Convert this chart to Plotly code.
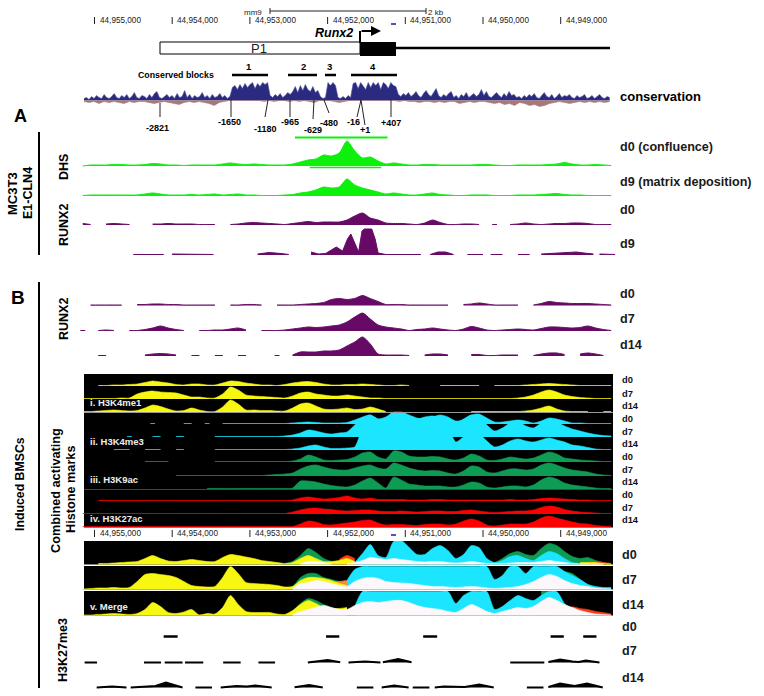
import numpy as np
import plotly.graph_objects as go

W, H = 764, 696
N = None
PX0, PX_PER_KB = 94.5, 77.7   # pixel of 44,955,000 and pixels per kb (x axis calibration)
FONT = "Liberation Sans"

# ---------- data: genomic ticks ----------
TICK_KB = [0, 1, 2, 3, 4, 5, 6]
TICK_LABELS = ["44,955,000", "44,954,000", "44,953,000", "44,952,000", "44,951,000", "44,950,000", "44,949,000"]

# ---------- data: conservation ----------
CONS_POS = [2,3,1,4,2,5,3,2,6,3,2,4,7,3,2,5,3,6,2,4,8,3,2,5,4,2,6,3,7,9,3,2,4,6,3,5,2,7,3,4,10,3,6,2,5,3,4,8,3,5,2,6,3,4,7,3,5,2,4,
            13,15,11,16,12,17,13,16,18,12,17,14,18,16,18,
            5,3,6,4,7,3,5,8,6,
            9,14,8,15,10,16,11,9,14,8,10,
            4,2,3,
            18,15,18,15,
            3,2,4,2,5,3,
            17,18,12,18,15,11,18,13,18,15,18,11,18,16,12,18,15,14,
            6,4,7,5,8,4,6,9,5,3,7,10,6,4,8,12,5,3,6,4,7,9,3,5,2,6,4,8,3,5,7,4,6,11,5,9,4,3,6,8,5,3,7,4,9,5,6,3,4,2,5,3,6,4,7,3,2,5,8,4,3,6,2,4,7,3,5,4,6,3,2,5,3,4,6,2,3,5,2,4,6,3,2,4,3]
CONS_NEG = [1,2,1,3,1,2,1,2,3,1,2,1,1,2,3,2,1,2,3,4,2,1,2,1,2,3,5,2,1,
            0,0,0,0,0,0,0,1,0,1,0,0,1,0,1,0,1,2,0,0,0,1,2,1,0,0,0,0,0,0,0,0,0,0,
            1,0,1,1,2,1,1,2,1,2,1,1,3,2,1,2,1,1,2,3,2,4,3,5,2,3,5,4,6,5,3,2,1,2,3,2,1,2,1,2,1,2,1]

# ---------- data: panel A ----------
DHS_D0 = [0,1,1,1,1.5,1.5,1,1,1.5,2.5,
          2,1,1,.5,1,1,1,1,2,3,
          2,1.5,2,1.5,1,1,1,2,4,6,
          7,11,10,13,25,15,8,9,5,2,
          3,2,1,1,1.5,1.5,1,1,1,1,
          1,1.5,1.5,1,.5,.5,1,1,1,1,
          1.5,2,3.5,2,1,1,1.5,1,.5]
DHS_D9 = [.5,1,1,1,1,1,1,1,2,3,
          2,1,1,1,1.5,1,1.5,2,1,1.5,
          2,1,1,.5,.5,.5,1,1.5,3,4,
          6,9,8,9,17,11,8,6,4,2,
          3,2,1,1,2,3,1.5,1,.5,.5,
          1,1,1,.5,.5,.5,1,1,1,1.5,
          2,2.5,1.5,1,1,.5,.5,.5,.5]
RUNX2_A_D0 = [1.5,.5,N,1,1.5,1,.5,N,N,1,
              1,1.5,1,1,1,.5,.5,.5,N,.5,
              1,2,2.5,2,1.5,1,.5,1.5,2.5,3.5,
              2.5,3,3,3,5,9,12,7,5,2,
              1.5,1.5,1,.5,2,5,2.5,.5,.5,1,
              1,.5,N,.5,N,.5,1,2,1,.5,
              1,1.5,1.5,2,2,1.5,.5,.5,.5]
RUNX2_A_D9_KB = [.5,.63,.76,.89,N,1.0,1.13,1.27,1.4,1.53,N,2.1,2.25,2.4,2.5,N,
                 2.787,2.881,2.974,3.112,3.193,3.256,3.299,3.362,3.399,3.443,3.474,3.568,3.612,3.65,3.75,4.0,4.2,N,
                 4.32,4.42,4.52,4.62,N,4.8,5.0,N,5.1,5.25,N,5.45,5.6,N,5.75,5.9,6.05,6.2,6.3,6.42,N,6.5,6.62,6.7]
RUNX2_A_D9 = [.5,.5,.5,.5,N,1,1,.5,.5,.5,N,1,2.5,1.5,.5,N,
              3,1,1.5,8,4,16,21,10,3,24,26,26,16,2,.5,.5,.5,N,
              .5,3,3,.5,N,.5,.5,N,.5,.5,N,.5,.5,N,1,1.5,2,3,2,1,N,1,.5,.5]
DHS_BAR_TOP_KB = [2.58, 3.77]
DHS_BAR_LOW_KB = [2.77, 3.69]

# ---------- data: RUNX2 in BMSCs ----------
RUNX2_B_D0 = [N,.5,.5,.5,.5,.5,N,1,1,1.5,
              1.5,1,1,.5,.5,.5,.5,.5,N,.5,
              .5,1,1,.5,N,.5,.5,.5,1,1.5,
              2,3,6,7,6,7,10,7,4,1,
              1,1,.5,.5,.5,.5,.5,.5,N,1,
              1.5,2.5,1.5,.5,.5,.5,.5,N,.5,2,
              4,3,2.5,2,2,2,1.5,1,.5]
RUNX2_B_D7 = [.5,N,.5,1,.5,N,.5,.5,1.5,3,
              5,3,1.5,.5,N,.5,.5,1,1,2,
              3,1,N,.5,.5,.5,1,2,3,4,
              3.5,4,5,6,9,14,18,12,6,4,
              3,2,.5,1.5,2,3,2,1,.5,2,
              4.5,3,1,.5,1,1.5,2,1.5,1,2.5,
              4,4,3.5,3,3.5,5,3,1.5,.5]
RUNX2_B_D14 = [N,N,.5,.5,N,N,N,N,1,2,
               2.5,2,1,N,.5,.5,N,.5,.5,N,
               .5,.5,N,N,N,.5,N,1,4,4,
               4,5,5,6,10,14,19,12,2,1,
               1,1,.5,N,1,2,2,1,N,N,
               1.5,1.5,.5,.5,1,1,1,N,.5,2,
               3,3,1.5,N,2,3,2,.5,N]

# ---------- data: histone marks ----------
K4ME1_D0 = [N,N,.5,.5,1,1,1.5,2,3.5,5,
            4,3,1.5,1,2,2,1,1,3,5,
            4.5,3,2,1,1,.5,1.5,3,4,4.5,
            3.5,2,1,1,1.5,1.5,2,1.5,1,.5,
            .5,1,.5,N,N,N,.5,.5,.5,.5,
            .5,.5,N,.5,.5,.5,.5,1,1.5,2,
            2.5,2,1.5,1,.5,.5,.5,.5,.5]
K4ME1_D7 = [.5,.5,.5,.5,.5,1,1,5,7,8,
            7,6.5,6,4,2,2,1,1,5,12,
            9,4,3,2.5,2,1.5,1,3,6,7,
            5,4,3,3,4,3,2,1,1,.5,
            .5,.5,.5,.5,.5,.5,.5,.5,.5,.5,
            .5,.5,.5,.5,.5,.5,1,2,4,7,
            9,7,4,2.5,1.5,1,.5,.5,.5]
K4ME1_D14 = [.5,.5,1,1.5,2,1.5,1,1.5,4,7,
             5.5,3,1,1.5,4,2,.5,.5,5,12,
             8,2,2,1.5,1.5,1,1,4,8,9,
             6,3,2.5,3,4,2.5,3,5,3,.5,
             N,N,N,N,N,N,N,N,N,N,
             .5,.5,.5,.5,.5,.5,.5,1,2,4,
             6,3,1,.5,.5,.5,N,.5,.5]
K4ME3_D0 = [N,N,N,N,N,N,N,N,N,.5,
            N,N,N,.5,.5,N,.5,N,.5,.5,
            .5,.5,.5,.5,.5,.5,.5,1,1.5,2,
            1.5,1,1,1,1.5,4,7,9,5,5,
            11,12,9,6,5,7,9,7,3,4,
            9,10,6,2,2,3,4,3,1,3,
            6,5,3,1,1,.5,.5,.5,.5]
K4ME3_D7 = [N,N,N,N,N,N,.5,N,N,.5,
            .5,N,.5,.5,N,N,N,.5,.5,.5,
            .5,.5,.5,.5,.5,.5,1,2,4,7,
            6,4,3,4,5,12,19,22,18,20,
            25,24,21,18,20,21,19,16,14,18,
            22,20,12,6,9,14,16,11,9,14,
            17,15,11,8,6,4,2.5,1.5,1]
K4ME3_D14 = [N,N,N,N,.5,.5,.5,N,.5,.5,
             .5,N,.5,.5,N,N,N,.5,.5,.5,
             .5,.5,.5,.5,.5,.5,.5,1,2,4,
             5,3,1.5,1.5,2,3,20,22,22,22,
             24,24,24,24,24,24,24,22,8,13,
             17,16,9,3,5,9,11,9,8,10,
             12,10,8,5,4,2.5,1,.5,.5]
K9AC_D0 = [N,N,N,N,N,N,N,N,.5,.5,
           .5,.5,N,N,N,N,N,.5,.5,.5,
           .5,.5,.5,.5,.5,.5,.5,1,3,7,
           5,2,1.5,2,2.5,5,9,10,5,3,
           11,10,6,5,5,5.5,5,3,2,4,
           8,6,2,1.5,3,5,4,3,4,7,
           10,8,4,3,2,1.5,1,.5,.5]
K9AC_D7 = [N,N,N,N,N,N,N,N,N,N,
           N,N,.5,.5,.5,.5,.5,.5,.5,.5,
           .5,.5,.5,.5,1,1.5,2,3,7,10,
           11,9,7,6,6,8,10,11,8,7,
           13,11,8,6,5,5.5,5,3,2,5,
           10,9,4,3,5,7,7,6,7,11,
           13,11,8,6,5,4,2,1,.5]
K9AC_D14 = [N,N,N,N,N,N,N,N,N,N,
            N,N,N,N,N,N,.5,.5,.5,.5,
            .5,.5,.5,.5,.5,.5,.5,1,8,8,
            7,5,3.5,2.5,2,4,8,11,6,1,
            12,9,5,4,3,3,3,2,2,4,
            7,6,2,1,2,3,3,2,4,9,
            12,10,6,4,3,2,1,.5,.5]
K27AC_D0 = [N,N,.5,.5,.5,.5,.5,.5,.5,.5,
            .5,.5,.5,.5,.5,.5,.5,.5,.5,.5,
            .5,.5,.5,.5,.5,.5,.5,1,3,4,
            3,2,2.5,3.5,5,3,2,3,1.5,1.5,
            1.5,1.5,1,1,1,1.5,1.5,1,1,1,
            1,1,1,1,1,1.5,1,1,1.5,2.5,
            3,2.5,2,1.5,1,1,.5,.5,.5]
K27AC_D7 = [.5,.5,.5,.5,.5,.5,.5,.5,.5,.5,
            .5,.5,.5,.5,.5,.5,.5,.5,.5,.5,
            .5,.5,.5,.5,.5,.5,.5,2,4,5.5,
            6,5,4.5,3.5,3,3.5,4,4,3,2.5,
            2.5,3,2.5,2,2.5,3,3,2.5,2.5,3.5,
            4,3,2,1.5,2,2.5,3,3,4,6.5,
            8,7,4.5,3,2,1.5,1,.5,.5]
K27AC_D14 = [.5,.5,.5,.5,.5,.5,.5,.5,.5,.5,
             .5,.5,.5,.5,.5,.5,.5,.5,.5,.5,
             .5,.5,.5,.5,.5,.5,.5,.5,3,6,
             5,2.5,2,3,4,5,6.5,7,4,2,
             2.5,2.5,2,1.5,2.5,3,3,2,3,6,
             8,6,2,1,2,3,3,3,5,9,
             11,9,7,5,3.5,3,1.5,1,.5]

# ---------- data: merge ----------
M0_GREEN = [N,N,N,N,N,N,N,N,N,N,N,N,N,N,N,N,N,N,N,N,
            N,N,N,N,N,N,1,3,9,16,12,6,3,N,N,N,3,10,4,6,
            12,10,7,5,6,8,8,5,3,6,9,7,2,2,6,11,13,10,9,16,
            21,19,13,8,6,7,4,2,1]
M0_RED = [N,N,N,N,N,N,N,N,N,N,N,N,N,N,N,N,N,N,N,N,
          N,N,N,N,N,N,N,N,N,N,N,N,N,5,9,6,N,N,N,N,
          N,N,N,N,N,N,N,N,N,N,N,N,N,N,N,N,N,N,N,N,
          N,N,N,N,N,3,3,2,1]
M0_YELLOW = [N,N,1,1,1.5,2,2.5,3,6,9,
             6,3.5,3,4,5,4,3,3,7,10,
             9,7.5,6,4,3,2,1,2,6,9,
             6,3,3,4,6,3,N,N,N,N,
             N,N,N,N,N,N,N,N,N,N,
             N,N,N,N,N,N,N,N,N,N,
             N,N,N,N,2,2,2,1,.5]
M0_CYAN = [N,N,N,N,N,N,N,N,N,N,N,N,N,N,N,N,N,N,N,N,
           N,N,N,N,N,N,N,N,N,N,N,N,N,N,N,2,11,20,9,7,
           23,24,17,10,10,16,19,14,6,10,19,17,6,2,4,8,9,6,4,9,
           13,11,6,2,1,N,N,N,N]
M0_WHITE = [N,N,N,N,N,N,N,N,N,N,N,N,N,N,N,N,N,N,N,N,
            N,N,N,N,N,N,N,N,1,3,3,2,1,N,1,2,4,7,6,5,
            6,5,4,3,2.5,3,3,2,1.5,2,3,2,1,1,1,1.5,2,2,2,3,
            4,3,2,1,.5,.5,.5,.5,N]
M7_GREEN = [N,N,N,N,N,N,N,N,N,N,N,N,N,N,N,N,N,N,N,N,
            N,N,N,N,N,N,2,3,12,16,16,12,10,8,7,N,N,N,N,N,
            N,N,N,N,N,N,N,N,N,N,N,N,N,N,N,N,N,N,N,N,
            N,20,18,16,10,5,2,N,N]
M7_RED = [N,N,N,N,N,N,N,N,N,N,N,N,N,N,N,N,N,N,N,N,
          N,N,N,N,N,N,N,N,N,N,N,N,7,8,9,N,N,N,N,N,
          N,N,N,N,N,N,N,N,N,N,N,N,N,N,N,N,N,N,N,N,
          N,N,N,N,N,N,N,N,N]
M7_YELLOW = [.5,1,1.5,1.5,2,1.5,2,8,15,16,
             15,14,12,8,4,3,2.5,3,12,23,
             16,7,6,5.5,5,4,2.5,3,9,12,
             12,11,9,6,4,N,N,N,N,N,
             N,N,N,N,N,N,N,N,N,N,
             N,N,N,N,N,N,N,N,N,N,
             N,N,N,N,N,N,N,N,N]
M7_CYAN = [N,N,N,N,N,N,N,N,N,N,N,N,N,N,N,N,N,N,N,N,
           N,N,N,N,N,N,N,N,N,N,N,N,N,N,9,20,23,23,23,23,
           23,23,23,23,23,23,23,23,23,23,23,23,23,10,14,23,23,16,23,23,
           23,23,18,14,10,5,3,2,2]
M7_WHITE = [N,N,N,N,N,N,N,N,N,N,N,N,N,N,N,N,N,N,N,N,
            N,N,N,N,N,N,N,1,6,7,9,8,6,4,3,8,11,12,11,8,
            7,6.5,6,5,4,3,3,2.5,2,2.5,3,2.5,1.5,1,1.5,2,3,5,8,12,
            15,13,9,6,4,3,1.5,1,.5]
M14_GREEN = [N,N,N,N,N,N,N,N,N,N,N,N,N,N,N,N,N,N,N,N,
             N,N,N,N,N,N,N,4,12,17,15,11,8,6,5,N,N,N,N,N,
             N,N,N,N,N,N,N,N,N,N,N,N,N,N,N,N,N,N,N,24,
             24,N,N,N,N,N,N,N,N]
M14_RED = [N,N,N,N,N,N,N,N,N,N,N,N,N,N,N,.7,.5,N,N,N,
           N,N,N,N,N,N,N,N,N,N,N,N,N,N,N,N,N,N,N,N,
           N,N,N,N,N,N,N,N,N,N,N,N,N,N,N,N,N,N,N,N,
           N,N,N,9,7,6,4,3,1.5]
M14_YELLOW = [.5,.5,1,1.5,2,1.5,1,2,6,13,
              9,3,2,3.5,6,.5,2,1.5,8,20,
              11,4,3,3,3,1.5,1,5,11,15,
              12,8,7,7,8,N,N,N,N,N,
              N,N,N,N,N,N,N,N,N,N,
              N,N,N,N,N,N,N,N,N,N,
              N,N,N,N,N,N,N,N,N]
M14_CYAN = [N,N,N,N,N,N,N,N,N,N,N,N,N,N,N,N,N,N,N,N,
            N,N,N,N,N,N,N,N,N,N,N,N,N,N,N,9,24,24,24,24,
            24,24,24,24,24,24,24,24,12,20,24,24,24,6,9,15,20,17,15,20,
            24,24,12,6,3,N,N,N,N]
M14_WHITE = [N,N,N,N,N,N,N,N,N,N,N,N,N,N,N,N,N,N,N,N,
             N,N,N,N,N,N,N,1,4,6,8,10,8,6,6,10,13,14,13,14,
             15,15,13,10,8,7,6,4,3,7,11,8,4,2,4,6,8,7,9,14,
             18,15,11,8,5,3,1.5,1,.5]

# ---------- data: H3K27me3 ----------
K27ME3_D0_KB = [0.89,1.07,N,2.98,3.15,N,4.23,4.41,N,5.87,6.04,N,6.29,6.46]
K27ME3_D0 = [0,0,N,0,0,N,0,0,N,0,0,N,0,0]
K27ME3_D7_KB = [-.127,.033,N,.637,.856,N,.904,1.133,N,1.165,1.4,N,1.656,1.881,N,2.11,2.324,N,
                2.746,2.895,3.002,3.162,N,3.269,3.482,3.68,N,3.712,3.909,4.08,N,5.351,5.789,N,
                5.842,5.992,6.152,6.232,6.323,6.499]
K27ME3_D7 = [0,0,N,0,0,N,0,0,N,0,0,N,0,0,N,0,0,N,
             0,1.5,2.5,.3,N,0,1,0,N,.3,3.5,.3,N,0,0,N,
             .5,3,1,.5,2,0]
K27ME3_D14_KB = [.028,.226,.412,N,.466,.653,.786,.92,1.053,1.133,N,1.299,1.512,N,1.624,1.827,1.961,2.068,2.281,N,
                 2.575,2.762,2.938,N,3.376,3.589,N,3.696,3.856,4.043,N,4.096,4.31,N,4.379,4.497,4.764,4.951,5.138,N,
                 5.565,5.778,N,5.842,5.992,6.179,6.339,6.541]
K27ME3_D14 = [0,1,0,N,0,.5,1.5,5,2,0,N,0,0,N,0,1.5,1,2,0,N,
              .3,2.5,0,N,0,0,N,0,2,0,N,0,0,N,0,1,.5,3,0,N,
              0,0,N,.5,4,1.5,4,0]

# ---------- helpers ----------
GRID_KB = np.round(-0.1506 + 0.1 * np.arange(69), 4).tolist()
fig = go.Figure()
annots, shapes = [], []
axis_layout = {}
axis_count = [1]


def px(xpx):
    return xpx / W


def py(ypx):
    return 1 - ypx / H


def new_axis(base, up, down=0):
    axis_count[0] += 1
    n = axis_count[0]
    axis_layout[f"yaxis{n}"] = dict(domain=[py(base + down), py(base - up)], range=[-down, up],
                                    visible=False, fixedrange=True, anchor="x")
    return f"y{n}"


def segments(xs, ys):
    seg_x, seg_y = [], []
    for a, b in zip(xs, ys):
        if a is None or b is None:
            if seg_x:
                yield seg_x, seg_y
            seg_x, seg_y = [], []
        else:
            seg_x.append(a)
            seg_y.append(b)
    if seg_x:
        yield seg_x, seg_y


def track(values, base, color, up=30, x=None, lw=1, spline=True):
    ax = new_axis(base, up, 2)
    for sx, sy in segments(GRID_KB if x is None else x, values):
        if len(sx) == 1:  # lone sample: give it a visible tick of track width
            sx, sy = [sx[0] - 0.03, sx[0] + 0.03], [sy[0], sy[0]]
        fig.add_trace(go.Scatter(x=sx, y=sy, yaxis=ax, mode="lines",
                                 line=dict(color=color, width=lw, shape="spline" if spline else "linear", smoothing=0.7),
                                 fill="tozeroy", fillcolor=color, hoverinfo="skip", showlegend=False))


def text(x, y, s, size=12, bold=True, color="#000", rot=0, anchor="left"):
    annots.append(dict(x=px(x), y=py(y), xref="paper", yref="paper", text=f"<b>{s}</b>" if bold else s,
                       showarrow=False, font=dict(family=FONT, size=size, color=color), textangle=rot,
                       xanchor=anchor, yanchor="middle", borderpad=0, borderwidth=0))


def line(x0, y0, x1, y1, color="#000", w=1):
    shapes.append(dict(type="line", xref="paper", yref="paper", x0=px(x0), x1=px(x1), y0=py(y0), y1=py(y1),
                       line=dict(color=color, width=w)))


def rect(x0, y0, x1, y1, fill, color=None, w=0, layer="below"):
    shapes.append(dict(type="rect", xref="paper", yref="paper", x0=px(x0), x1=px(x1), y0=py(y0), y1=py(y1),
                       fillcolor=fill, line=dict(color=color or fill, width=w), layer=layer))


def genomic_ticks(ypx):
    for kb, lab in zip(TICK_KB, TICK_LABELS):
        shapes.append(dict(type="line", xref="x", yref="paper", x0=kb, x1=kb, y0=py(ypx - 3), y1=py(ypx + 4),
                           line=dict(color="#222", width=1)))
        annots.append(dict(x=kb, y=py(ypx), xref="x", yref="paper", text=lab, showarrow=False, xshift=3,
                           font=dict(family=FONT, size=8.2, color="#222"), xanchor="left", yanchor="middle"))


GREEN, PURPLE, YELLOW, CYAN, DKGREEN, RED = "#0cf00c", "#660a66", "#f7f711", "#1ce6ff", "#0e9c55", "#ff0000"

# ---------- header ----------
text(253, 13, "mm9", 8, False, "#222", anchor="center")
line(270, 11, 426, 11, "#222")
line(270, 8, 270, 14, "#222")
line(426, 8, 426, 14, "#222")
text(428, 13, "2 kb", 8, False, "#222")
genomic_ticks(20)
line(391, 24, 396, 24, "#1a1aa0", 1.5)
text(334, 33, "<i>Runx2</i>", 12.5, True, anchor="center")
line(360, 43, 360, 31, "#000", 2)
annots.append(dict(x=px(381), y=py(31), ax=-21, ay=0, xref="paper", yref="paper",
                   text="", showarrow=True, arrowhead=2, arrowsize=1, arrowwidth=2, arrowcolor="#000"))
rect(160, 42, 360, 54, "#fff", "#000", 1)
text(259, 49, "P1", 13, False, "#222", anchor="center")
rect(360, 42, 396, 56, "#000")
line(396, 48, 610, 48, "#000", 2.5)
text(138, 75, "Conserved blocks", 8.8, True)
for lab, a, b, c in [("1", 232, 268, 249), ("2", 288, 317, 303), ("3", 325, 336, 329), ("4", 351, 397, 373)]:
    line(a, 75, b, 75, "#000", 2.5)
    text(c, 66, lab, 9.5, True, anchor="center")

# conservation wiggle
cons_x = np.linspace(-0.135, 6.63, len(CONS_POS)).tolist()
neg_x = np.linspace(-0.135, 6.63, len(CONS_NEG)).tolist()
cy = new_axis(100.5, 19, 10)
fig.add_trace(go.Scatter(x=cons_x, y=CONS_POS, yaxis=cy, mode="lines", line=dict(color="#5656a0", width=0.6),
                         fill="tozeroy", fillcolor="#2a2a80", hoverinfo="skip", showlegend=False))
fig.add_trace(go.Scatter(x=neg_x, y=[-v for v in CONS_NEG], yaxis=cy, mode="lines", line=dict(color="#a87878", width=0.6),
                         fill="tozeroy", fillcolor="#a87878", hoverinfo="skip", showlegend=False))
text(620, 96, "conservation", 13, True)

for lab, xt, xb, ytop, ybot, xl, yl in [("-2821", 160, 160, 103, 117, 157, 128), ("-1650", 231, 231, 100, 117, 229, 122),
                                        ("-1180", 268, 265, 100, 117, 265, 129), ("-965", 290, 290, 100, 117, 290, 122),
                                        ("-629", 314, 313, 100, 119, 313, 130), ("-480", 324, 329, 100, 113, 329, 123),
                                        ("-16", 361, 357, 100, 117, 353, 122), ("+1", 361, 365, 100, 125, 365, 129.5),
                                        ("+407", 391, 391, 100, 117, 391, 123)]:
    line(xt, ytop, xb, ybot, "#222")
    text(xl, yl, lab, 9, True, anchor="center")

# ---------- panel A ----------
text(20, 116, "A", 18, True, anchor="center")
line(39, 132, 39, 255, "#000", 2)
text(12, 194, "MC3T3", 13, True, rot=-90, anchor="center")
text(28, 193, "E1-CLN4", 12.5, True, rot=-90, anchor="center")
text(64, 167, "DHS", 12.5, True, rot=-90, anchor="center")
text(64, 225, "RUNX2", 12.5, True, rot=-90, anchor="center")
track(DHS_D0, 166, GREEN)
track(DHS_D9, 196, GREEN)
track(RUNX2_A_D0, 225, PURPLE)
track(RUNX2_A_D9, 255, PURPLE, x=RUNX2_A_D9_KB, spline=False)
for kb_pair, ypx, w in [(DHS_BAR_TOP_KB, 137.5, 2), (DHS_BAR_LOW_KB, 167.5, 1.5)]:
    shapes.append(dict(type="line", xref="x", yref="paper", x0=kb_pair[0], x1=kb_pair[1], y0=py(ypx), y1=py(ypx),
                       line=dict(color=GREEN, width=w)))
for s, y in [("d0 (confluence)", 147), ("d9 (matrix deposition)", 182), ("d0", 210), ("d9", 244)]:
    text(620, y, s, 12.6, True, "#1a1a1a")

# ---------- panel B ----------
text(18, 297, "B", 19, True, anchor="center")
line(39, 282, 39, 688, "#000", 2)
text(64, 319, "RUNX2", 12.5, True, rot=-90, anchor="center")
text(20, 484, "Induced BMSCs", 12.3, True, rot=-90, anchor="center")
text(56, 490, "Combined activating", 12.7, True, rot=-90, anchor="center")
text(71, 490, "Histone marks", 12.7, True, rot=-90, anchor="center")
text(63, 650, "H3K27me3", 12.5, True, rot=-90, anchor="center")
track(RUNX2_B_D0, 305.5, PURPLE)
track(RUNX2_B_D7, 331, PURPLE)
track(RUNX2_B_D14, 356, PURPLE)
for s, y in [("d0", 294), ("d7", 319), ("d14", 345)]:
    text(620, y, s, 12.6, True, "#1a1a1a")

# histone panel
rect(84, 374, 613, 527.5, "#000")
for vals, base, col in [(K4ME1_D0, 386, YELLOW), (K4ME1_D7, 399, YELLOW), (K4ME1_D14, 412, YELLOW),
                        (K4ME3_D0, 424, CYAN), (K4ME3_D7, 437, CYAN), (K4ME3_D14, 450, CYAN),
                        (K9AC_D0, 462, DKGREEN), (K9AC_D7, 476, DKGREEN), (K9AC_D14, 489, DKGREEN),
                        (K27AC_D0, 501, RED), (K27AC_D7, 514, RED), (K27AC_D14, 527, RED)]:
    track(vals, base, col, lw=0.6)
line(84, 412.5, 613, 412.5, "#999", 1)
line(84, 489.5, 613, 489.5, "#444", 1)
for s, y in [("i. H3K4me1", 403), ("ii. H3K4me3", 441), ("iii. H3K9ac", 479), ("iv. H3K27ac", 518)]:
    text(90, y, s, 9.5, True, "#eee")
for s, y in zip(["d0", "d7", "d14"] * 4, [380, 394, 406, 419, 432, 444, 457, 470, 482, 495, 508, 520]):
    text(622, y, s, 9.3, True, "#111")
genomic_ticks(533)
line(391, 535, 396, 535, "#1a1aa0", 1.5)

# merge panel
for top, base, g, r, yl, c, wh, lab, ly in [
    (541, 564.5, M0_GREEN, M0_RED, M0_YELLOW, M0_CYAN, M0_WHITE, "d0", 555),
    (566, 589.5, M7_GREEN, M7_RED, M7_YELLOW, M7_CYAN, M7_WHITE, "d7", 580),
    (591, 615.5, M14_GREEN, M14_RED, M14_YELLOW, M14_CYAN, M14_WHITE, "d14", 605)]:
    rect(84, top, 613, base, "#000")
    height = base - top
    for vals, col in [(g, DKGREEN), (r, "#ff3b14" if lab != "d7" else "#f58a3c"), (yl, YELLOW), (c, CYAN), (wh, "#fbf7fb")]:
        track(vals, base, col, up=height, lw=0.6)
    text(622, ly, lab, 12.6, True, "#1a1a1a")
text(90, 606, "v. Merge", 9.5, True, "#eee")

# H3K27me3
track(K27ME3_D0, 636.5, "#000", x=K27ME3_D0_KB, lw=2.5, spline=False)
track(K27ME3_D7, 662.5, "#000", x=K27ME3_D7_KB, lw=2, spline=False)
track(K27ME3_D14, 687.5, "#000", x=K27ME3_D14_KB, lw=2, spline=False)
for s, y in [("d0", 627), ("d7", 651), ("d14", 678)]:
    text(622, y, s, 12.6, True, "#1a1a1a")

fig.update_layout(width=W, height=H, margin=dict(l=0, r=0, t=0, b=0), paper_bgcolor="#fff", plot_bgcolor="rgba(0,0,0,0)",
                  showlegend=False, annotations=annots, shapes=shapes,
                  xaxis=dict(domain=[0, 1], range=[(0 - PX0) / PX_PER_KB, (W - PX0) / PX_PER_KB], visible=False, fixedrange=True),
                  yaxis=dict(visible=False, domain=[0, 1], fixedrange=True), **axis_layout)
fig.write_html("out.html", config={"displayModeBar": False},
               post_script="document.body.style.margin='0';")
